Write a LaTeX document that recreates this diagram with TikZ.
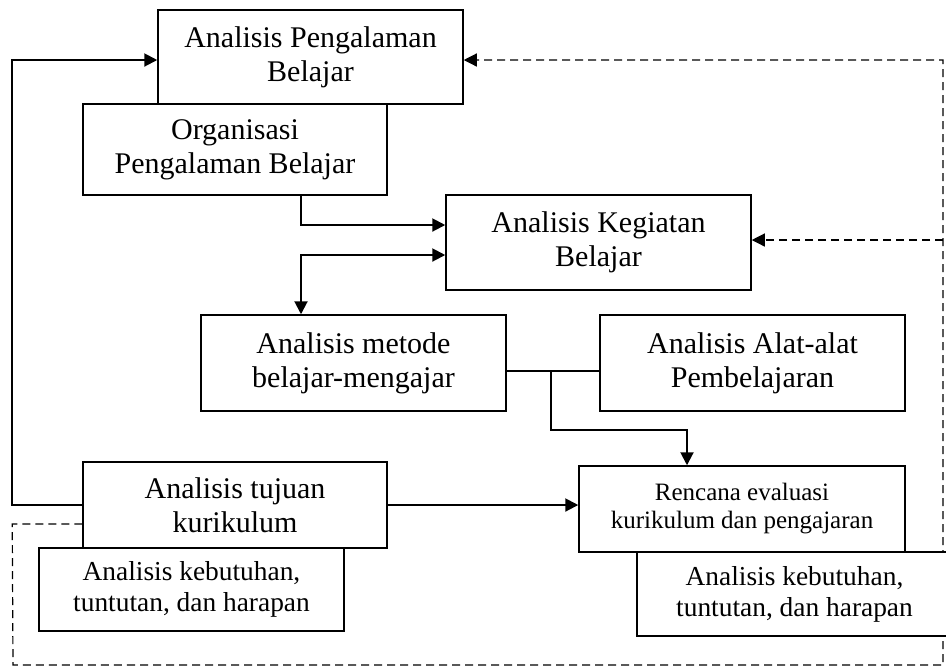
\documentclass[tikz,border=0pt]{standalone}
\usepackage{fontspec}
\setmainfont{Liberation Serif}
\usetikzlibrary{arrows.meta}
\begin{document}
\begin{tikzpicture}[x=0.5pt, y=-0.5pt]
        \tikzstyle{box} = [draw, fill=white, rectangle, line width=0.75pt, align=center, inner sep=1pt, font=\fontsize{15}{17}\selectfont]
        \tikzstyle{link} = [line width=1pt, >={Triangle[length=6.5pt,width=6.5pt]}]
        \tikzstyle{back} = [dash pattern=on 4pt off 2.5pt, line width=0.6pt, >={Triangle[length=6.5pt,width=6.5pt]}]
        \useasboundingbox (0,0) rectangle (946,666);
        \node[box, minimum width=152pt, minimum height=45.5pt] (OPB) at (235,149.5) {Organisasi\\Pengalaman Belajar};
        \node[box, minimum width=152.5pt, minimum height=47pt] (APB) at (310.5,57) {Analisis Pengalaman\\Belajar};
        \node[box, minimum width=152.5pt, minimum height=47.5pt] (AKB) at (598.5,242.5) {Analisis Kegiatan\\Belajar};
        \node[box, minimum width=152.5pt, minimum height=48pt] (AM) at (353.5,363) {Analisis metode\\belajar-mengajar};
        \node[box, minimum width=152.5pt, minimum height=48pt] (AAP) at (752.5,363) {Analisis Alat-alat\\Pembelajaran};
        \node[box, minimum width=163pt, minimum height=43pt, font=\fontsize{12.5}{14}\selectfont] (REK) at (742,509) {Rencana evaluasi\\kurikulum dan pengajaran};
        \node[box, minimum width=152.5pt, minimum height=41.5pt, font=\fontsize{13.7}{15.5}\selectfont] (AKH1) at (191.5,589.5) {Analisis kebutuhan,\\tuntutan, dan harapan};
        \node[box, minimum width=152pt, minimum height=43pt] (ATK) at (235,505) {Analisis tujuan\\kurikulum};
        \coordinate (fork) at (551,371);
        \coordinate (dm) at (943,240);
        \draw[link, ->] (ATK.west) -- ++(-70,0) |- ([yshift=-1.5pt]APB.west);
        \draw[link, ->] ([xshift=33pt]OPB.south) |- ([yshift=8.75pt]AKB.west);
        \draw[link, <->] ([yshift=-6.25pt]AKB.west) -| ([xshift=-26.25pt]AM.north);
        \draw[link] ([yshift=-4pt]AM.east) -- ([yshift=-4pt]AAP.west);
        \draw[link, ->] (fork) -- (551,430) -| ([xshift=-27.5pt]REK.north);
        \draw[link, ->] (ATK.east) -- (ATK.east -| REK.west);
        \draw[back, ->] ([yshift=-9.5pt]ATK.west) -- ++(-70,0) -- (13,665) -- (943,665) |- ([yshift=-1.5pt]APB.east);
        \draw[back, ->] (dm) -- ([yshift=1.25pt]AKB.east);
        \node[box, minimum width=157.5pt, minimum height=42pt, font=\fontsize{13.7}{15.5}\selectfont] (AKH2) at (794.5,594) {Analisis kebutuhan,\\tuntutan, dan harapan};
      \end{tikzpicture}
\end{document}
